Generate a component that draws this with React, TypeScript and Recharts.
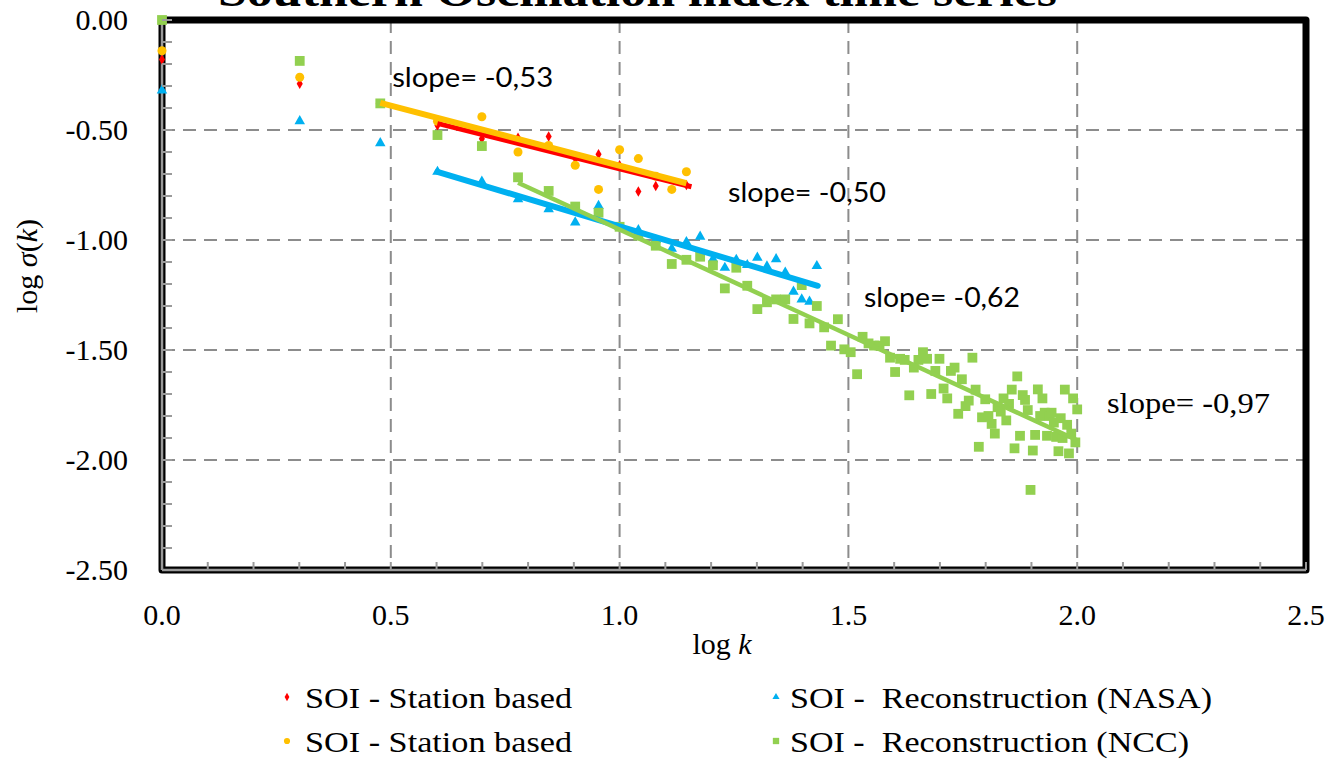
import React from 'react';
import {
  ScatterChart,
  Scatter,
  XAxis,
  YAxis,
  CartesianGrid,
  ReferenceArea,
  ReferenceDot,
  Legend,
  Symbols,
} from 'recharts';

const SERIF = "'Liberation Serif', 'Times New Roman', serif";
const SANS = "Lato, 'Open Sans', sans-serif";

// axis ticks (minor every 0.1, labels on the 0.5 steps)
const xTicks = [0, 0.1, 0.2, 0.3, 0.4, 0.5, 0.6, 0.7, 0.8, 0.9, 1.0, 1.1, 1.2, 1.3, 1.4, 1.5, 1.6, 1.7, 1.8, 1.9, 2.0, 2.1, 2.2, 2.3, 2.4, 2.5];
const yTicks = [0, -0.1, -0.2, -0.3, -0.4, -0.5, -0.6, -0.7, -0.8, -0.9, -1.0, -1.1, -1.2, -1.3, -1.4, -1.5, -1.6, -1.7, -1.8, -1.9, -2.0, -2.1, -2.2, -2.3, -2.4, -2.5];
const xGrid = [0, 0.5, 1.0, 1.5, 2.0, 2.5];
const yGrid = [0, -0.5, -1.0, -1.5, -2.0, -2.5];

// SOI - Station based (red diamonds)
const redX = [0, 0.301, 0.602, 0.699, 0.778, 0.845, 0.903, 0.954, 1.0, 1.041, 1.079, 1.146];
const redY = [-0.18, -0.29, -0.48, -0.54, -0.535, -0.53, -0.63, -0.61, -0.66, -0.78, -0.755, -0.75];

// SOI - Station based (orange circles)
const orangeX = [0, 0.301, 0.477, 0.602, 0.699, 0.778, 0.845, 0.903, 0.954, 1.0, 1.041, 1.079, 1.114, 1.146];
const orangeY = [-0.14, -0.26, -0.38, -0.46, -0.44, -0.6, -0.57, -0.66, -0.77, -0.59, -0.63, -0.71, -0.77, -0.69];

// SOI - Reconstruction (NASA)
const nasaX = [0, 0.301, 0.477, 0.602, 0.699, 0.778, 0.845, 0.903, 0.954, 1.0, 1.041, 1.079, 1.114, 1.146, 1.176, 1.204, 1.23, 1.255, 1.279, 1.301, 1.322, 1.342, 1.362, 1.38, 1.398, 1.415, 1.431];
const nasaY = [-0.32, -0.46, -0.56, -0.69, -0.735, -0.815, -0.86, -0.92, -0.845, -0.94, -0.955, -1.0, -1.04, -1.01, -0.985, -1.087, -1.126, -1.09, -1.114, -1.08, -1.12, -1.087, -1.148, -1.235, -1.27, -1.28, -1.118];

// SOI - Reconstruction (NCC)
const nccX = [
  0, 0.301, 0.477, 0.602, 0.699, 0.778, 0.845, 0.903, 0.954, 1.0,
  1.041, 1.079, 1.114, 1.146, 1.176, 1.204, 1.23, 1.255, 1.279, 1.301,
  1.322, 1.342, 1.362, 1.38, 1.398, 1.415, 1.431, 1.447, 1.462, 1.477,
  1.491, 1.505, 1.519, 1.531, 1.544, 1.556, 1.568, 1.58, 1.591, 1.602,
  1.613, 1.623, 1.633, 1.643, 1.653, 1.663, 1.672, 1.681, 1.69, 1.699,
  1.708, 1.716, 1.724, 1.732, 1.74, 1.748, 1.756, 1.763, 1.771, 1.778,
  1.785, 1.792, 1.799, 1.806, 1.813, 1.82, 1.826, 1.833, 1.839, 1.845,
  1.851, 1.857, 1.863, 1.869, 1.875, 1.881, 1.886, 1.892, 1.898, 1.903,
  1.908, 1.914, 1.919, 1.924, 1.929, 1.934, 1.94, 1.944, 1.949, 1.954,
  1.959, 1.964, 1.968, 1.973, 1.978, 1.982, 1.987, 1.991, 1.996, 2.0,
];
const nccY = [
  0, -0.186, -0.379, -0.523, -0.573, -0.715, -0.777, -0.848, -0.876, -0.94,
  -0.98, -1.026, -1.109, -1.09, -1.076, -1.115, -1.22, -1.126, -1.208, -1.314,
  -1.283, -1.27, -1.27, -1.359, -1.205, -1.379, -1.3, -1.397, -1.48, -1.36,
  -1.497, -1.51, -1.61, -1.44, -1.47, -1.48, -1.48, -1.46, -1.535, -1.6,
  -1.54, -1.545, -1.706, -1.58, -1.545, -1.51, -1.54, -1.7, -1.595, -1.54,
  -1.675, -1.72, -1.595, -1.58, -1.79, -1.633, -1.755, -1.73, -1.535, -1.68,
  -1.94, -1.806, -1.724, -1.8, -1.836, -1.88, -1.76, -1.78, -1.72, -1.82,
  -1.745, -1.68, -1.947, -1.62, -1.89, -1.705, -1.727, -1.773, -2.136, -1.957,
  -1.886, -1.679, -1.8, -1.72, -1.785, -1.89, -1.8, -1.785, -1.83, -1.895,
  -1.96, -1.81, -1.9, -1.68, -1.84, -1.97, -1.88, -1.72, -1.92, -1.77,
];

// fitted trend lines (end points)
const redTrendX = [0.602, 1.157];
const redTrendY = [-0.47, -0.758];
const orangeTrendX = [0.477, 1.146];
const orangeTrendY = [-0.377, -0.742];
const nasaTrendX = [0.602, 1.433];
const nasaTrendY = [-0.69, -1.208];
const nccTrendX = [0.778, 2.0];
const nccTrendY = [-0.74, -1.91];

// slope annotations
const slopeText = ['slope= -0,53', 'slope= -0,50', 'slope= -0,62', 'slope= -0,97'];
const slopeX = [0.503, 1.237, 1.534, 2.065];
const slopeY = [-0.305, -0.826, -1.305, -1.785];

const legendNames = ['SOI - Station based', 'SOI -  Reconstruction (NASA)', 'SOI - Station based', 'SOI -  Reconstruction (NCC)'];

const RED = '#ff0000';
const ORANGE = '#ffc000';
const BLUE = '#00b0f0';
const GREEN = '#92d050';

const toPoints = (xs: number[], ys: number[]) => xs.map((x, i) => ({ x, y: ys[i] }));

const isMajor = (v: number) => Math.abs(v * 2 - Math.round(v * 2)) < 1e-6;

function XTick(props: any) {
  const { x, y, payload } = props;
  const v = payload.value;
  return (
    <g>
      <line x1={x} x2={x} y1={y} y2={y - 8} stroke="#9a9a9a" strokeWidth={2} />
      {isMajor(v) && (
        <text x={x} y={y + 55} textAnchor="middle" fontFamily={SERIF} fontSize={30} fill="#000">
          {v.toFixed(1)}
        </text>
      )}
    </g>
  );
}

function YTick(props: any) {
  const { x, y, payload } = props;
  const v = payload.value;
  return (
    <g>
      <line x1={x} x2={x + 10} y1={y} y2={y} stroke="#9a9a9a" strokeWidth={2} />
      {isMajor(v) && (
        <text x={x - 34} y={y + 10} textAnchor="end" fontFamily={SERIF} fontSize={30} fill="#000">
          {v.toFixed(2)}
        </text>
      )}
    </g>
  );
}

function XTitle(props: any) {
  const { viewBox } = props;
  return (
    <text x={viewBox.x + viewBox.width / 2 - 12} y={viewBox.y + 84} textAnchor="middle" fontFamily={SERIF} fontSize={30} fill="#000">
      log <tspan fontStyle="italic">k</tspan>
    </text>
  );
}

function YTitle(props: any) {
  const { viewBox } = props;
  return (
    <text
      transform={`translate(37, ${viewBox.y + 246}) rotate(-90)`}
      textAnchor="middle"
      fontFamily={SERIF}
      fontSize={30}
      fill="#000"
    >
      log <tspan fontStyle="italic">σ</tspan>(<tspan fontStyle="italic">k</tspan>)
    </text>
  );
}

function SlopeLabel(props: any) {
  const { viewBox, text, serif, width } = props;
  return (
    <text
      x={viewBox.x}
      y={viewBox.y}
      fontFamily={serif ? SERIF : SANS}
      fontSize={serif ? 30 : 27}
      textLength={width}
      lengthAdjust="spacingAndGlyphs"
      fill="#000"
    >
      {text}
    </text>
  );
}

const marker = (type: any, size: number, color: string) => (p: any) =>
  p.cx == null ? <g /> : <Symbols cx={p.cx} cy={p.cy} type={type} size={size} fill={color} />;

const noMarker = () => <g />;

function LegendBox() {
  const rows = [
    { cx: 287, cy: 29, tx: 305, type: 'diamond', size: 20, color: RED, name: legendNames[0], w: 267 },
    { cx: 776, cy: 29, tx: 790, type: 'triangle', size: 22, color: BLUE, name: legendNames[1], w: 422 },
    { cx: 287, cy: 73, tx: 305, type: 'circle', size: 30, color: ORANGE, name: legendNames[2], w: 267 },
    { cx: 776, cy: 73, tx: 790, type: 'square', size: 40, color: GREEN, name: legendNames[3], w: 399 },
  ];
  return (
    <svg width={1328} height={92} style={{ display: 'block' }}>
      {rows.map((r, i) => (
        <g key={i}>
          <Symbols cx={r.cx} cy={r.cy} type={r.type as any} size={r.size} fill={r.color} />
          <text
            x={r.tx}
            y={r.cy + 11}
            fontFamily={SERIF}
            fontSize={30}
            fill="#000"
            textLength={r.w}
            lengthAdjust="spacingAndGlyphs"
            style={{ whiteSpace: 'pre' }}
          >
            {r.name}
          </text>
        </g>
      ))}
    </svg>
  );
}

export default function App() {
  const slopeWidths = [161, 158, 156, 163];
  return (
    <div style={{ position: 'absolute', left: 0, top: 0, width: 1328, height: 760, background: '#fff' }}>
      <ScatterChart width={1328} height={760} margin={{ top: 20, right: 22, bottom: 130, left: 0 }}>
        <CartesianGrid
          horizontalValues={yGrid}
          verticalValues={xGrid}
          stroke="#8c8c8c"
          strokeWidth={2}
          strokeDasharray="13 8"
        />
        <ReferenceArea x1={0} x2={2.5} y1={-2.5} y2={0} fill="none" stroke="#000" strokeWidth={7} strokeLinejoin="round" />
        <XAxis
          type="number"
          dataKey="x"
          domain={[0, 2.5]}
          ticks={xTicks}
          interval={0}
          height={60}
          tickSize={0}
          tickMargin={0}
          tickLine={false}
          axisLine={{ stroke: '#9a9a9a', strokeWidth: 2.5 }}
          tick={<XTick />}
          label={<XTitle />}
        />
        <YAxis
          type="number"
          dataKey="y"
          domain={[-2.5, 0]}
          ticks={yTicks}
          interval={0}
          width={162}
          tickSize={0}
          tickMargin={0}
          tickLine={false}
          axisLine={{ stroke: '#9a9a9a', strokeWidth: 2.5 }}
          tick={<YTick />}
          label={<YTitle />}
        />
        <Scatter name="SOI - Station based" data={toPoints(redX, redY)} shape={marker('diamond', 32, RED)} isAnimationActive={false} />
        <Scatter name="SOI - Reconstruction (NASA)" data={toPoints(nasaX, nasaY)} shape={marker('triangle', 48, BLUE)} isAnimationActive={false} />
        <Scatter name="SOI - Station based 2" data={toPoints(orangeX, orangeY)} shape={marker('circle', 64, ORANGE)} isAnimationActive={false} />
        <Scatter name="SOI - Reconstruction (NCC)" data={toPoints(nccX, nccY)} shape={marker('square', 96, GREEN)} isAnimationActive={false} />
        <Scatter data={toPoints(redTrendX, redTrendY)} line={{ stroke: RED, strokeWidth: 5 }} shape={noMarker} legendType="none" isAnimationActive={false} />
        <Scatter data={toPoints(orangeTrendX, orangeTrendY)} line={{ stroke: ORANGE, strokeWidth: 6 }} shape={noMarker} legendType="none" isAnimationActive={false} />
        <Scatter data={toPoints(nasaTrendX, nasaTrendY)} line={{ stroke: BLUE, strokeWidth: 6, strokeLinecap: 'round' }} shape={noMarker} legendType="none" isAnimationActive={false} />
        <Scatter data={toPoints(nccTrendX, nccTrendY)} line={{ stroke: GREEN, strokeWidth: 4.5 }} shape={noMarker} legendType="none" isAnimationActive={false} />
        {slopeText.map((t, i) => (
          <ReferenceDot
            key={t}
            x={slopeX[i]}
            y={slopeY[i]}
            r={0}
            fill="none"
            stroke="none"
            label={<SlopeLabel text={t} serif={i === 3} width={slopeWidths[i]} />}
          />
        ))}
        <Legend
          verticalAlign="middle"
          align="center"
          layout="horizontal"
          wrapperStyle={{ top: 668, left: 0, width: 1328, height: 92 }}
          content={() => <LegendBox />}
        />
      </ScatterChart>
      <svg width={1328} height={30} style={{ position: 'absolute', left: 0, top: 0, pointerEvents: 'none' }}>
        <text
          x={218}
          y={6}
          fontFamily={SERIF}
          fontWeight="bold"
          fontSize={44}
          textLength={839}
          lengthAdjust="spacingAndGlyphs"
          fill="#000"
        >
          Southern Oscillation index time series
        </text>
      </svg>
    </div>
  );
}
